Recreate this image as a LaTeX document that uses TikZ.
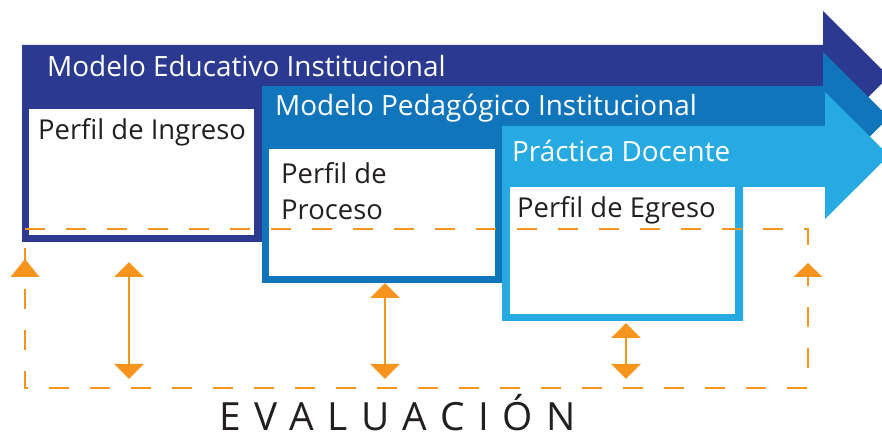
\documentclass[tikz,border=0pt]{standalone}
\usepackage{fontspec}
\setmainfont{Open Sans}
\usetikzlibrary{arrows.meta}
\definecolor{navy}{RGB}{43,57,144}
\definecolor{midblue}{RGB}{17,117,188}
\definecolor{lightblue}{RGB}{39,170,225}
\definecolor{evorange}{RGB}{247,148,29}
\definecolor{txt}{RGB}{35,31,32}
\tikzset{
  headtxt/.style={anchor=base west, inner sep=0pt, text=white, font=\fontsize{28}{30}\selectfont},
  boxtxt/.style={anchor=base west, inner sep=0pt, text=txt, font=\fontsize{27.5}{36}\selectfont, align=left},
  evaldash/.style={draw=evorange, line width=2.5bp, dash pattern=on 20bp off 21bp},
  dblarrow/.style={draw=evorange, line width=2.5bp, {Triangle[width=29bp,length=15bp]}-{Triangle[width=29bp,length=15bp]}},
}
\begin{document}
\begin{tikzpicture}[x=1bp,y=-1bp]
\useasboundingbox (0,0) rectangle (882,435);
\clip (0,0) rectangle (882,435);
% arrow 1
\fill[navy] (22,45) -- (823,45) -- (823,11) -- (889,76.5) -- (823,142) -- (823,108) -- (262,108) -- (262,242) -- (22,242) -- cycle;
\fill[white] (29,109) rectangle (254,235);
% arrow 2
\fill[midblue] (262,86) -- (823,86) -- (823,52) -- (889,117.5) -- (823,183) -- (823,149) -- (502,149) -- (502,283) -- (262,283) -- cycle;
\fill[white] (269,149) rectangle (495,276);
% arrow 3
\fill[lightblue] (502,126) -- (825,126) -- (825,92) -- (889,155.5) -- (825,219) -- (825,187) -- (743,187) -- (743,321) -- (502,321) -- cycle;
\fill[white] (510,187) rectangle (735,314);
% texts
\node[headtxt] (t1) at (47,77) {Modelo Educativo Institucional};
\node[headtxt] (t2) at (275,116) {Modelo Pedagógico Institucional};
\node[headtxt] (t3) at (512,162) {Práctica Docente};
\node[boxtxt] (p1) at (38,140) {Perfil de Ingreso};
\node[boxtxt, anchor=north west] (p2) at (281,162) {Perfil de\\Proceso};
\node[boxtxt] (p3) at (517,218) {Perfil de Egreso};
% evaluation frame
\coordinate (ev1) at (25,229);
\coordinate (ev2) at (808,229);
\coordinate (ev3) at (808,388);
\coordinate (ev4) at (25,388);
\draw[evaldash] (ev1) -- (ev2) -- (ev3) -- (ev4) -- cycle;
\fill[evorange] (25,259) -- (39.5,277) -- (10.5,277) -- cycle;
\fill[evorange] (808,263) -- (822.5,277) -- (793.5,277) -- cycle;
% double arrows
\coordinate (a1t) at (129,262); \coordinate (a1b) at (129,379);
\coordinate (a2t) at (385,283); \coordinate (a2b) at (385,379);
\coordinate (a3t) at (626,323); \coordinate (a3b) at (626,379);
\draw[dblarrow] (a1t) -- (a1b);
\draw[dblarrow] (a2t) -- (a2b);
\draw[dblarrow] (a3t) -- (a3b);
\node[anchor=base west, inner sep=0pt, text depth=0pt, text=txt, font=\fontsize{39}{39}\selectfont\addfontfeature{LetterSpace=35}] (ev) at (219,430) {EVALUACIÓN};
\end{tikzpicture}
\end{document}
